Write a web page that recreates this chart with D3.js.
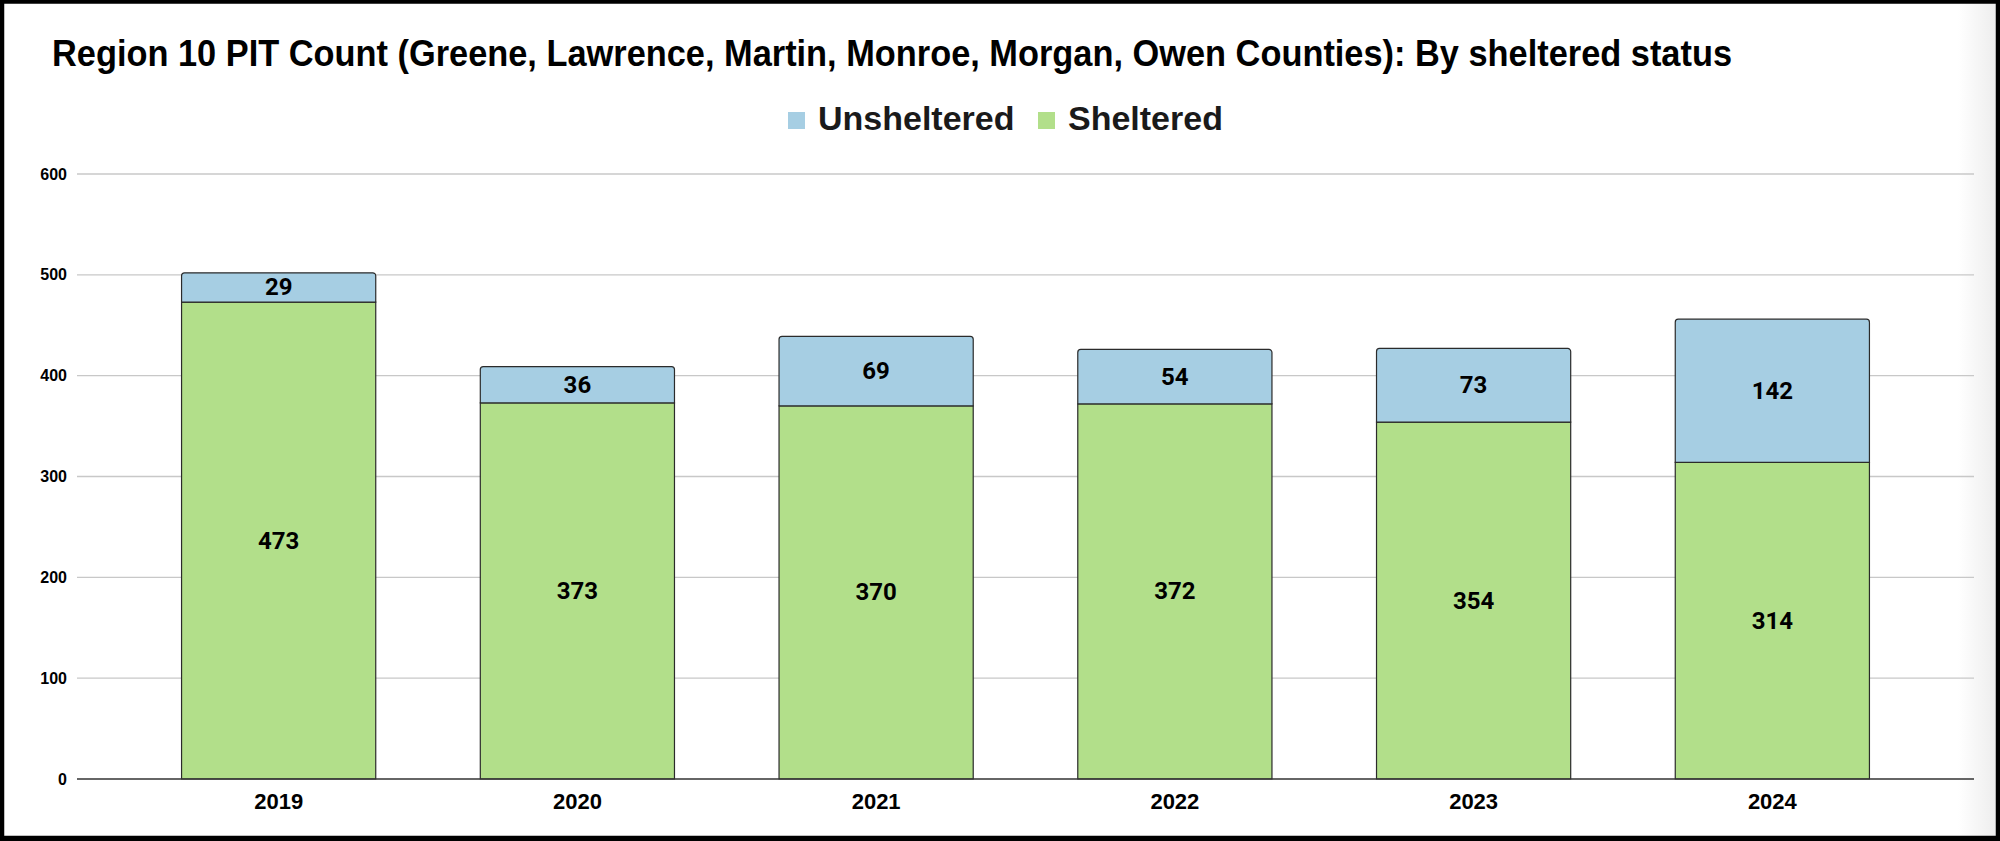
<!DOCTYPE html>
<html><head><meta charset="utf-8">
<script src="https://cdn.jsdelivr.net/npm/d3@7"></script>
<style>html,body{margin:0;padding:0;background:#fff;overflow:hidden}</style>
</head><body>
<svg id="chart" width="2000" height="841"></svg>
<script>
const years = ["2019","2020","2021","2022","2023","2024"];
const sheltered = [473, 373, 370, 372, 354, 314];
const unsheltered = [29, 36, 69, 54, 73, 142];
const yTicks = [0, 100, 200, 300, 400, 500, 600];
const seriesNames = ["Unsheltered", "Sheltered"];
const titleText = "Region 10 PIT Count (Greene, Lawrence, Martin, Monroe, Morgan, Owen Counties): By sheltered status";

const colors = { Unsheltered: "#a6cee3", Sheltered: "#b2df8a" };
const svg = d3.select("#chart");
const W = 2000, H = 841;

// background + faint right-edge shading
const defs = svg.append("defs");
const grad = defs.append("linearGradient").attr("id","edge").attr("x1","0").attr("x2","1");
grad.append("stop").attr("offset","0").attr("stop-color","#ffffff");
grad.append("stop").attr("offset","1").attr("stop-color","#ececec");
svg.append("rect").attr("width",W).attr("height",H).attr("fill","#fff");
svg.append("rect").attr("x",1958).attr("y",0).attr("width",40).attr("height",H).attr("fill","url(#edge)");

const x = d3.scaleBand().domain(years).range([77, 1974]).paddingInner(0.35).paddingOuter(0.35);
const y = d3.scaleLinear().domain([0, 600]).range([779, 174]);

// gridlines
svg.append("g").selectAll("line").data(yTicks.filter(d => d > 0)).join("line")
  .attr("x1", 77).attr("x2", 1974)
  .attr("y1", d => y(d)).attr("y2", d => y(d))
  .attr("stroke", "#c8c8c8").attr("stroke-width", 1.3);

// y axis labels
const yAxis = d3.axisLeft(y).tickValues(yTicks).tickSize(0).tickPadding(10);
const ya = svg.append("g").attr("transform","translate(77,0)").call(yAxis);
ya.select(".domain").remove();
ya.selectAll("text").attr("font-family","'Liberation Sans', Arial, sans-serif")
  .attr("font-weight","700").attr("font-size","16px").attr("fill","#000");

const data = years.map((yr, i) => ({ year: yr, Sheltered: sheltered[i], Unsheltered: unsheltered[i] }));
const stack = d3.stack().keys(["Sheltered","Unsheltered"]);
const stacked = stack(data);

function segPath(x0, w, yTop, yBot, r) {
  const p = d3.path();
  p.moveTo(x0, yBot);
  p.lineTo(x0, yTop + r);
  p.arcTo(x0, yTop, x0 + r, yTop, r);
  p.lineTo(x0 + w - r, yTop);
  p.arcTo(x0 + w, yTop, x0 + w, yTop + r, r);
  p.lineTo(x0 + w, yBot);
  p.closePath();
  return p.toString();
}

stacked.forEach((layer, li) => {
  const key = layer.key;
  const isTop = li === stacked.length - 1;
  const g = svg.append("g");
  g.selectAll("path").data(layer).join("path")
    .attr("d", d => segPath(x(d.data.year), x.bandwidth(), y(d[1]), y(d[0]), isTop ? 3 : 0))
    .attr("fill", colors[key])
    .attr("stroke", "#2b2b2b").attr("stroke-width", 1.2);
  g.selectAll("text").data(layer).join("text")
    .attr("x", d => x(d.data.year) + x.bandwidth() / 2)
    .attr("y", d => (y(d[0]) + y(d[1])) / 2)
    .attr("text-anchor","middle").attr("dominant-baseline","central")
    .attr("font-family","Roboto, 'Liberation Sans', sans-serif")
    .attr("font-weight","700").attr("font-size","24px").attr("fill","#000")
    .text(d => d.data[key]);
});

// baseline
svg.append("line").attr("x1",77).attr("x2",1974).attr("y1",y(0)).attr("y2",y(0))
  .attr("stroke","#333").attr("stroke-width",1.5);

// x axis labels
const xAxis = d3.axisBottom(x).tickSize(0).tickPadding(0);
const xa = svg.append("g").attr("transform","translate(0,0)").call(xAxis);
xa.select(".domain").remove();
xa.selectAll(".tick text").attr("y", 809).attr("dy", null)
  .attr("font-family","'Liberation Sans', Arial, sans-serif")
  .attr("font-weight","700").attr("font-size","22px").attr("fill","#000");

// title
svg.append("text").attr("x", 52).attr("y", 66)
  .attr("font-family","'Liberation Sans', Arial, sans-serif")
  .attr("font-weight","700").attr("font-size","36px").attr("fill","#000")
  .attr("textLength", 1680).attr("lengthAdjust","spacingAndGlyphs")
  .text(titleText);

// legend
const legendPos = [{sq: 788, tx: 818}, {sq: 1038, tx: 1068}];
const lg = svg.append("g");
seriesNames.forEach((name, i) => {
  lg.append("rect").attr("x", legendPos[i].sq).attr("y", 112).attr("width", 17).attr("height", 17)
    .attr("fill", colors[name]);
  lg.append("text").attr("x", legendPos[i].tx).attr("y", 130)
    .attr("font-family","'Liberation Sans', Arial, sans-serif")
    .attr("font-weight","700").attr("font-size","34px").attr("fill","#1a1a1a")
    .text(name);
});

// frame
svg.append("rect").attr("x",2).attr("y",1.5).attr("width",W-4).attr("height",H-4.5)
  .attr("fill","none").attr("stroke","#000").attr("stroke-width",4.5);
svg.append("rect").attr("x",0).attr("y",836).attr("width",W).attr("height",5).attr("fill","#000");
</script>
</body></html>
